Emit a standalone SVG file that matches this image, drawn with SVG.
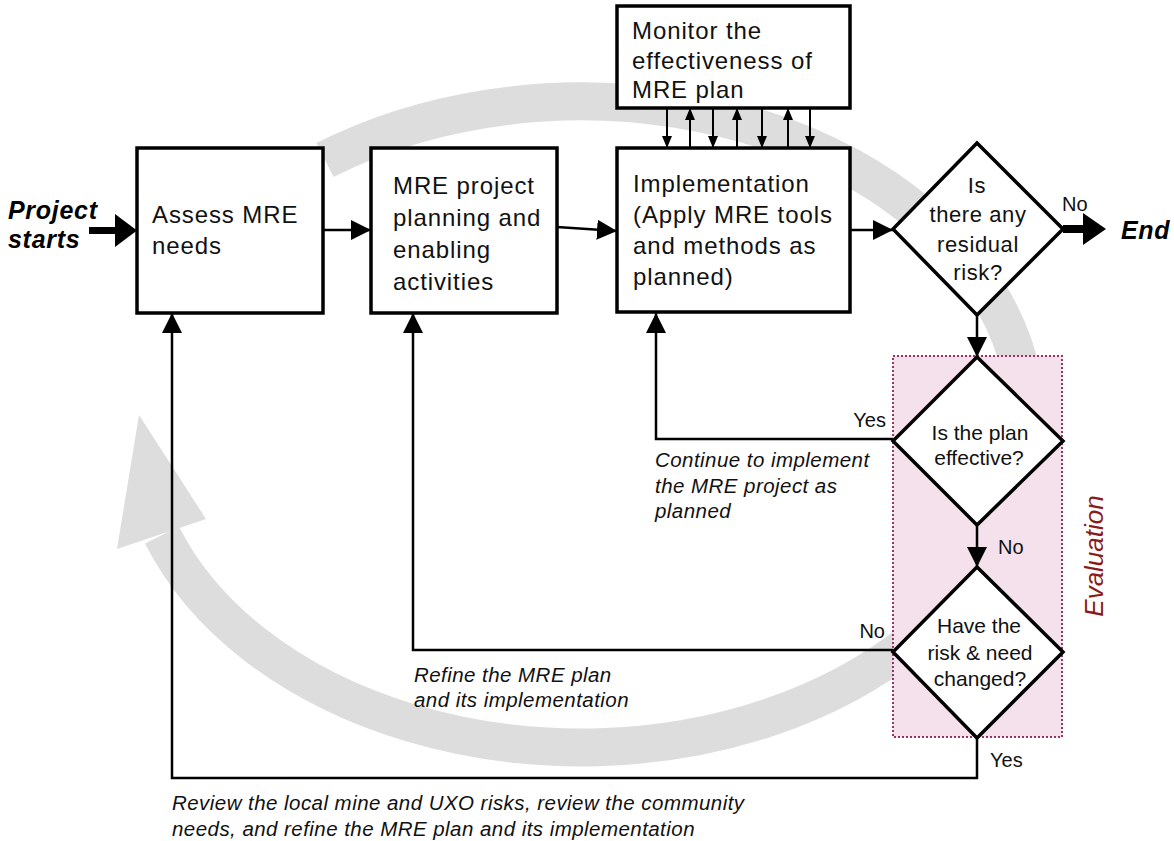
<svg xmlns="http://www.w3.org/2000/svg" width="1174" height="841" viewBox="0 0 1174 841">
<style>
.box{fill:#fff;stroke:#000;stroke-width:3.5}
.dia{fill:#fff;stroke:#000;stroke-width:3.5;stroke-linejoin:miter}
.t{font-family:"Liberation Sans",Arial,sans-serif;font-size:24px;fill:#111;letter-spacing:0.9px}
.td{font-family:"Liberation Sans",Arial,sans-serif;font-size:21px;fill:#111;text-anchor:middle}
.td1{font-family:"Liberation Sans",Arial,sans-serif;font-size:22px;fill:#111;text-anchor:middle;letter-spacing:0.6px}
.lab{font-family:"Liberation Sans",Arial,sans-serif;font-size:20px;fill:#111}
.it{font-family:"Liberation Sans",Arial,sans-serif;font-size:20.5px;font-style:italic;fill:#111;letter-spacing:0.45px}
.bi{font-family:"Liberation Sans",Arial,sans-serif;font-size:25px;font-style:italic;font-weight:bold;fill:#000;letter-spacing:0.7px}
.con{fill:none;stroke:#000;stroke-width:2.5}
.sm{fill:none;stroke:#000;stroke-width:2}
</style>
<defs>
<marker id="ah" markerWidth="20" markerHeight="20" refX="20" refY="10" orient="auto" markerUnits="userSpaceOnUse"><path d="M0,0 L20,10 L0,20 z" fill="#000"/></marker>
<marker id="sa" markerWidth="12" markerHeight="10" refX="12" refY="5" orient="auto" markerUnits="userSpaceOnUse"><path d="M0,0 L12,5 L0,10 z" fill="#000"/></marker>
</defs>
<g id="cycle">
<path d="M325,160 A446,323 0 1 1 162,535" fill="none" stroke="#dddddd" stroke-width="38"/>
<polygon points="139,415 117,549 206,519" fill="#dddddd"/>
</g>
<g id="evaluation">
<rect x="893" y="356" width="169" height="381" fill="#f5e1ec" stroke="#993366" stroke-width="2" stroke-dasharray="2,2"/>
<text transform="translate(1103,556) rotate(-90)" text-anchor="middle" font-family="Liberation Sans, Arial, sans-serif" font-size="26" font-style="italic" fill="#8b1a1a">Evaluation</text>
</g>
<g id="connectors">
<rect x="89" y="227" width="27" height="7" fill="#000"/>
<polygon points="115,214 137,230.5 115,247" fill="#000"/>
<line class="con" x1="323" y1="230" x2="371" y2="230" marker-end="url(#ah)"/>
<line class="con" x1="557" y1="227" x2="617" y2="231" marker-end="url(#ah)"/>
<line class="con" x1="850" y1="230" x2="893" y2="230" marker-end="url(#ah)"/>
<rect x="1063" y="225" width="22" height="8" fill="#000"/>
<polygon points="1083,213 1106,229 1083,245" fill="#000"/>
<line class="con" x1="977" y1="315" x2="977" y2="357" marker-end="url(#ah)"/>
<line class="con" x1="977" y1="525" x2="977" y2="567" marker-end="url(#ah)"/>
<polyline class="con" points="893,439 656,439 656,313" marker-end="url(#ah)"/>
<polyline class="con" points="893,650 413,650 413,313" marker-end="url(#ah)"/>
<polyline class="con" points="977,738 977,778 172,778 172,313" marker-end="url(#ah)"/>
<line class="sm" x1="667" y1="108" x2="667" y2="148" marker-end="url(#sa)"/>
<line class="sm" x1="713" y1="108" x2="713" y2="148" marker-end="url(#sa)"/>
<line class="sm" x1="762" y1="108" x2="762" y2="148" marker-end="url(#sa)"/>
<line class="sm" x1="810" y1="108" x2="810" y2="148" marker-end="url(#sa)"/>
<line class="sm" x1="690" y1="148" x2="690" y2="108" marker-end="url(#sa)"/>
<line class="sm" x1="737" y1="148" x2="737" y2="108" marker-end="url(#sa)"/>
<line class="sm" x1="788" y1="148" x2="788" y2="108" marker-end="url(#sa)"/>
</g>
<g id="start"><text class="bi" x="8" y="219">Project</text><text class="bi" x="8" y="248">starts</text></g>
<g id="end"><text class="bi" x="1121" y="239">End</text></g>
<g id="assess">
<rect class="box" x="137" y="148" width="186" height="165"/>
<text class="t" x="152" y="223">Assess MRE</text>
<text class="t" x="152" y="254">needs</text>
</g>
<g id="planning">
<rect class="box" x="371" y="148" width="186" height="165"/>
<text class="t" x="393" y="194">MRE project</text>
<text class="t" x="393" y="226">planning and</text>
<text class="t" x="393" y="258">enabling</text>
<text class="t" x="393" y="290">activities</text>
</g>
<g id="implementation">
<rect class="box" x="617" y="148" width="233" height="164"/>
<text class="t" x="633" y="192">Implementation</text>
<text class="t" x="633" y="223">(Apply MRE tools</text>
<text class="t" x="633" y="254">and methods as</text>
<text class="t" x="633" y="285">planned)</text>
</g>
<g id="monitor">
<rect class="box" x="617" y="6" width="233" height="102"/>
<text class="t" x="632" y="39">Monitor the</text>
<text class="t" x="632" y="69">effectiveness of</text>
<text class="t" x="632" y="98">MRE plan</text>
</g>
<g id="residual">
<polygon class="dia" points="977,143 1063,229 977,315 893,229"/>
<text class="td1" x="977" y="193">Is</text>
<text class="td1" x="978" y="222">there any</text>
<text class="td1" x="978" y="252">residual</text>
<text class="td1" x="978" y="280">risk?</text>
</g>
<g id="effective">
<polygon class="dia" points="977,357 1063,441 977,525 893,441"/>
<text class="td" x="980" y="440">Is the plan</text>
<text class="td" x="979" y="465">effective?</text>
</g>
<g id="changed">
<polygon class="dia" points="977,567 1063,652 977,738 893,652"/>
<text class="td" x="979" y="633">Have the</text>
<text class="td" x="980" y="660">risk &amp; need</text>
<text class="td" x="980" y="686">changed?</text>
</g>
<g id="labels">
<text class="lab" x="1062" y="211">No</text>
<text class="lab" x="886" y="427" text-anchor="end">Yes</text>
<text class="lab" x="998" y="554">No</text>
<text class="lab" x="885" y="638" text-anchor="end">No</text>
<text class="lab" x="990" y="767">Yes</text>
<text class="it" x="655" y="467">Continue to implement</text>
<text class="it" x="655" y="493">the MRE project as</text>
<text class="it" x="655" y="518">planned</text>
<text class="it" x="414" y="682">Refine the MRE plan</text>
<text class="it" x="414" y="707">and its implementation</text>
<text class="it" x="172" y="810">Review the local mine and UXO risks, review the community</text>
<text class="it" x="172" y="836">needs, and refine the MRE plan and its implementation</text>
</g>
</svg>
